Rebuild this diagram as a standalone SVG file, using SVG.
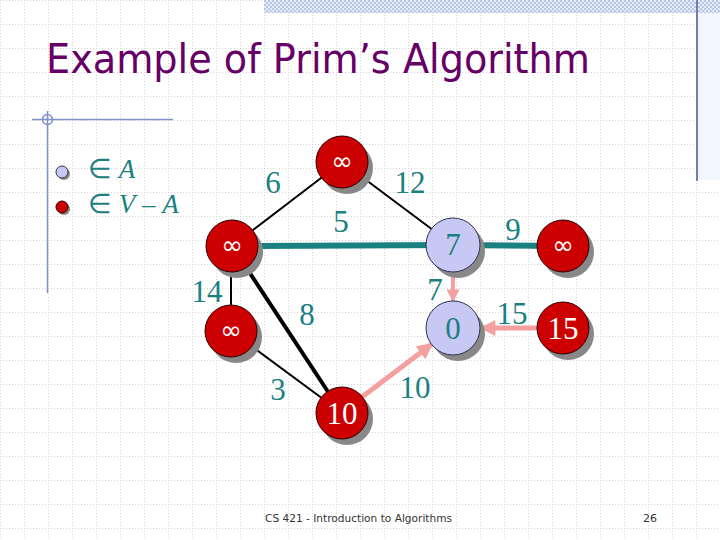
<svg xmlns="http://www.w3.org/2000/svg" width="720" height="540" viewBox="0 0 720 540">
<defs>
<pattern id="grid" x="0" y="0" width="24" height="24" patternUnits="userSpaceOnUse">
<line x1="0" y1="0.5" x2="24" y2="0.5" stroke="#d4d4d4" stroke-width="1" stroke-dasharray="1 2"/>
<line x1="0.5" y1="0" x2="0.5" y2="24" stroke="#d4d4d4" stroke-width="1" stroke-dasharray="1 2"/>
</pattern>
<pattern id="check" x="0" y="0" width="4" height="4" patternUnits="userSpaceOnUse">
<rect width="4" height="4" fill="#e6ecf8"/>
<rect width="2" height="2" fill="#b8c6e6"/>
<rect x="2" y="2" width="2" height="2" fill="#b8c6e6"/>
</pattern>
<marker id="ah" viewBox="0 0 10 10" refX="9" refY="5" markerWidth="3.4" markerHeight="3.2" orient="auto" markerUnits="strokeWidth">
<path d="M0,0 L10,5 L0,10 z" fill="#f4a0a0"/>
</marker>
<style>
.lbl{font-family:"Liberation Serif","Times New Roman",serif;font-size:31px;fill:#1a8080;text-anchor:middle}
.nt{font-family:"Liberation Serif","Times New Roman",serif;font-size:31px;text-anchor:middle}
.inf{font-family:"DejaVu Sans","Liberation Sans",sans-serif;font-size:26px;text-anchor:middle;fill:#ffffff}
.red{fill:#cc0000;stroke:#2a0000;stroke-width:1}
.blue{fill:#c8c8f4;stroke:#303050;stroke-width:1}
.sh{fill:#888888}
.thin{stroke:#000;stroke-width:2;fill:none}
.pink{stroke:#f4a0a0;fill:none;marker-end:url(#ah)}
.teal{stroke:#1a8080;stroke-width:6;fill:none}
</style>
</defs>
<rect width="720" height="540" fill="#ffffff"/>
<rect width="720" height="540" fill="url(#grid)"/>
<rect x="264" y="0" width="456" height="13" fill="url(#check)"/>
<rect x="698" y="13" width="22" height="167" fill="#f2f6ff"/>
<line x1="697" y1="0" x2="697" y2="181" stroke="#7080a8" stroke-width="2"/>
<g id="corner-mark" stroke="#8090c8" stroke-width="1.5" fill="none">
<line x1="32" y1="119.5" x2="173" y2="119.5"/>
<line x1="47.5" y1="111" x2="47.5" y2="293"/>
<circle cx="47.5" cy="119.5" r="5"/>
</g>
<text x="46" y="73" font-family="DejaVu Sans,Verdana,sans-serif" font-size="41" fill="#660066" textLength="544" lengthAdjust="spacingAndGlyphs">Example of Prim’s Algorithm</text>
<g id="legend">
<circle cx="64" cy="174" r="6" class="sh"/>
<circle cx="62" cy="172" r="6" class="blue"/>
<circle cx="64" cy="209" r="6" class="sh"/>
<circle cx="62" cy="207" r="6" class="red"/>
<text x="88" y="178" font-family="Liberation Serif,serif" font-size="27" fill="#1a8080">∈ <tspan font-style="italic">A</tspan></text>
<text x="88" y="213" font-family="Liberation Serif,serif" font-size="27" fill="#1a8080">∈ <tspan font-style="italic">V</tspan> – <tspan font-style="italic">A</tspan></text>
</g>
<g id="connectors">
<line x1="342" y1="162" x2="232" y2="246" class="thin"/>
<line x1="342" y1="162" x2="453" y2="245" class="thin"/>
<line x1="232" y1="246" x2="453" y2="245" class="teal"/>
<line x1="453" y1="245" x2="563" y2="246" class="teal"/>
<line x1="231" y1="246" x2="231" y2="331" class="thin"/>
<line x1="232" y1="246" x2="342" y2="413" stroke="#000" stroke-width="4"/>
<line x1="231" y1="331" x2="342" y2="413" class="thin"/>
<line x1="453" y1="271" x2="453" y2="301" class="pink" stroke-width="4"/>
<line x1="537" y1="328" x2="481" y2="328" class="pink" stroke-width="5"/>
<line x1="362" y1="397" x2="432" y2="344" class="pink" stroke-width="5"/>
<text class="lbl" x="273" y="193">6</text>
<text class="lbl" x="410" y="193">12</text>
<text class="lbl" x="341" y="232">5</text>
<text class="lbl" x="513" y="240">9</text>
<text class="lbl" x="435" y="300">7</text>
<text class="lbl" x="512" y="324">15</text>
<text class="lbl" x="207" y="302">14</text>
<text class="lbl" x="307" y="325">8</text>
<text class="lbl" x="278" y="400">3</text>
<text class="lbl" x="415" y="398">10</text>
</g>
<g id="n-top"><circle cx="347" cy="168" r="26" class="sh"/><circle cx="342" cy="162" r="26" class="red"/><text class="inf" x="342" y="170">∞</text></g>
<g id="n-left"><circle cx="237" cy="252" r="26" class="sh"/><circle cx="232" cy="246" r="26" class="red"/><text class="inf" x="232" y="254">∞</text></g>
<g id="n-7"><circle cx="458" cy="251" r="27" class="sh"/><circle cx="453" cy="245" r="27" class="blue"/><text class="nt" x="453" y="255" fill="#1a8080">7</text></g>
<g id="n-right"><circle cx="568" cy="252" r="26" class="sh"/><circle cx="563" cy="246" r="26" class="red"/><text class="inf" x="563" y="254">∞</text></g>
<g id="n-0"><circle cx="458" cy="334" r="27" class="sh"/><circle cx="453" cy="328" r="27" class="blue"/><text class="nt" x="453" y="339" fill="#1a8080">0</text></g>
<g id="n-15"><circle cx="568" cy="334" r="26" class="sh"/><circle cx="563" cy="328" r="26" class="red"/><text class="nt" x="563" y="339" fill="#ffffff">15</text></g>
<g id="n-lower"><circle cx="236" cy="337" r="26" class="sh"/><circle cx="231" cy="331" r="26" class="red"/><text class="inf" x="231" y="339">∞</text></g>
<g id="n-10"><circle cx="347" cy="419" r="26" class="sh"/><circle cx="342" cy="413" r="26" class="red"/><text class="nt" x="342" y="424" fill="#ffffff">10</text></g>
<text x="265" y="522" font-family="DejaVu Sans,Verdana,sans-serif" font-size="11" fill="#333333" textLength="187" lengthAdjust="spacingAndGlyphs">CS 421 - Introduction to Algorithms</text>
<text x="643" y="522" font-family="DejaVu Sans,Verdana,sans-serif" font-size="11" fill="#333333">26</text>
</svg>
